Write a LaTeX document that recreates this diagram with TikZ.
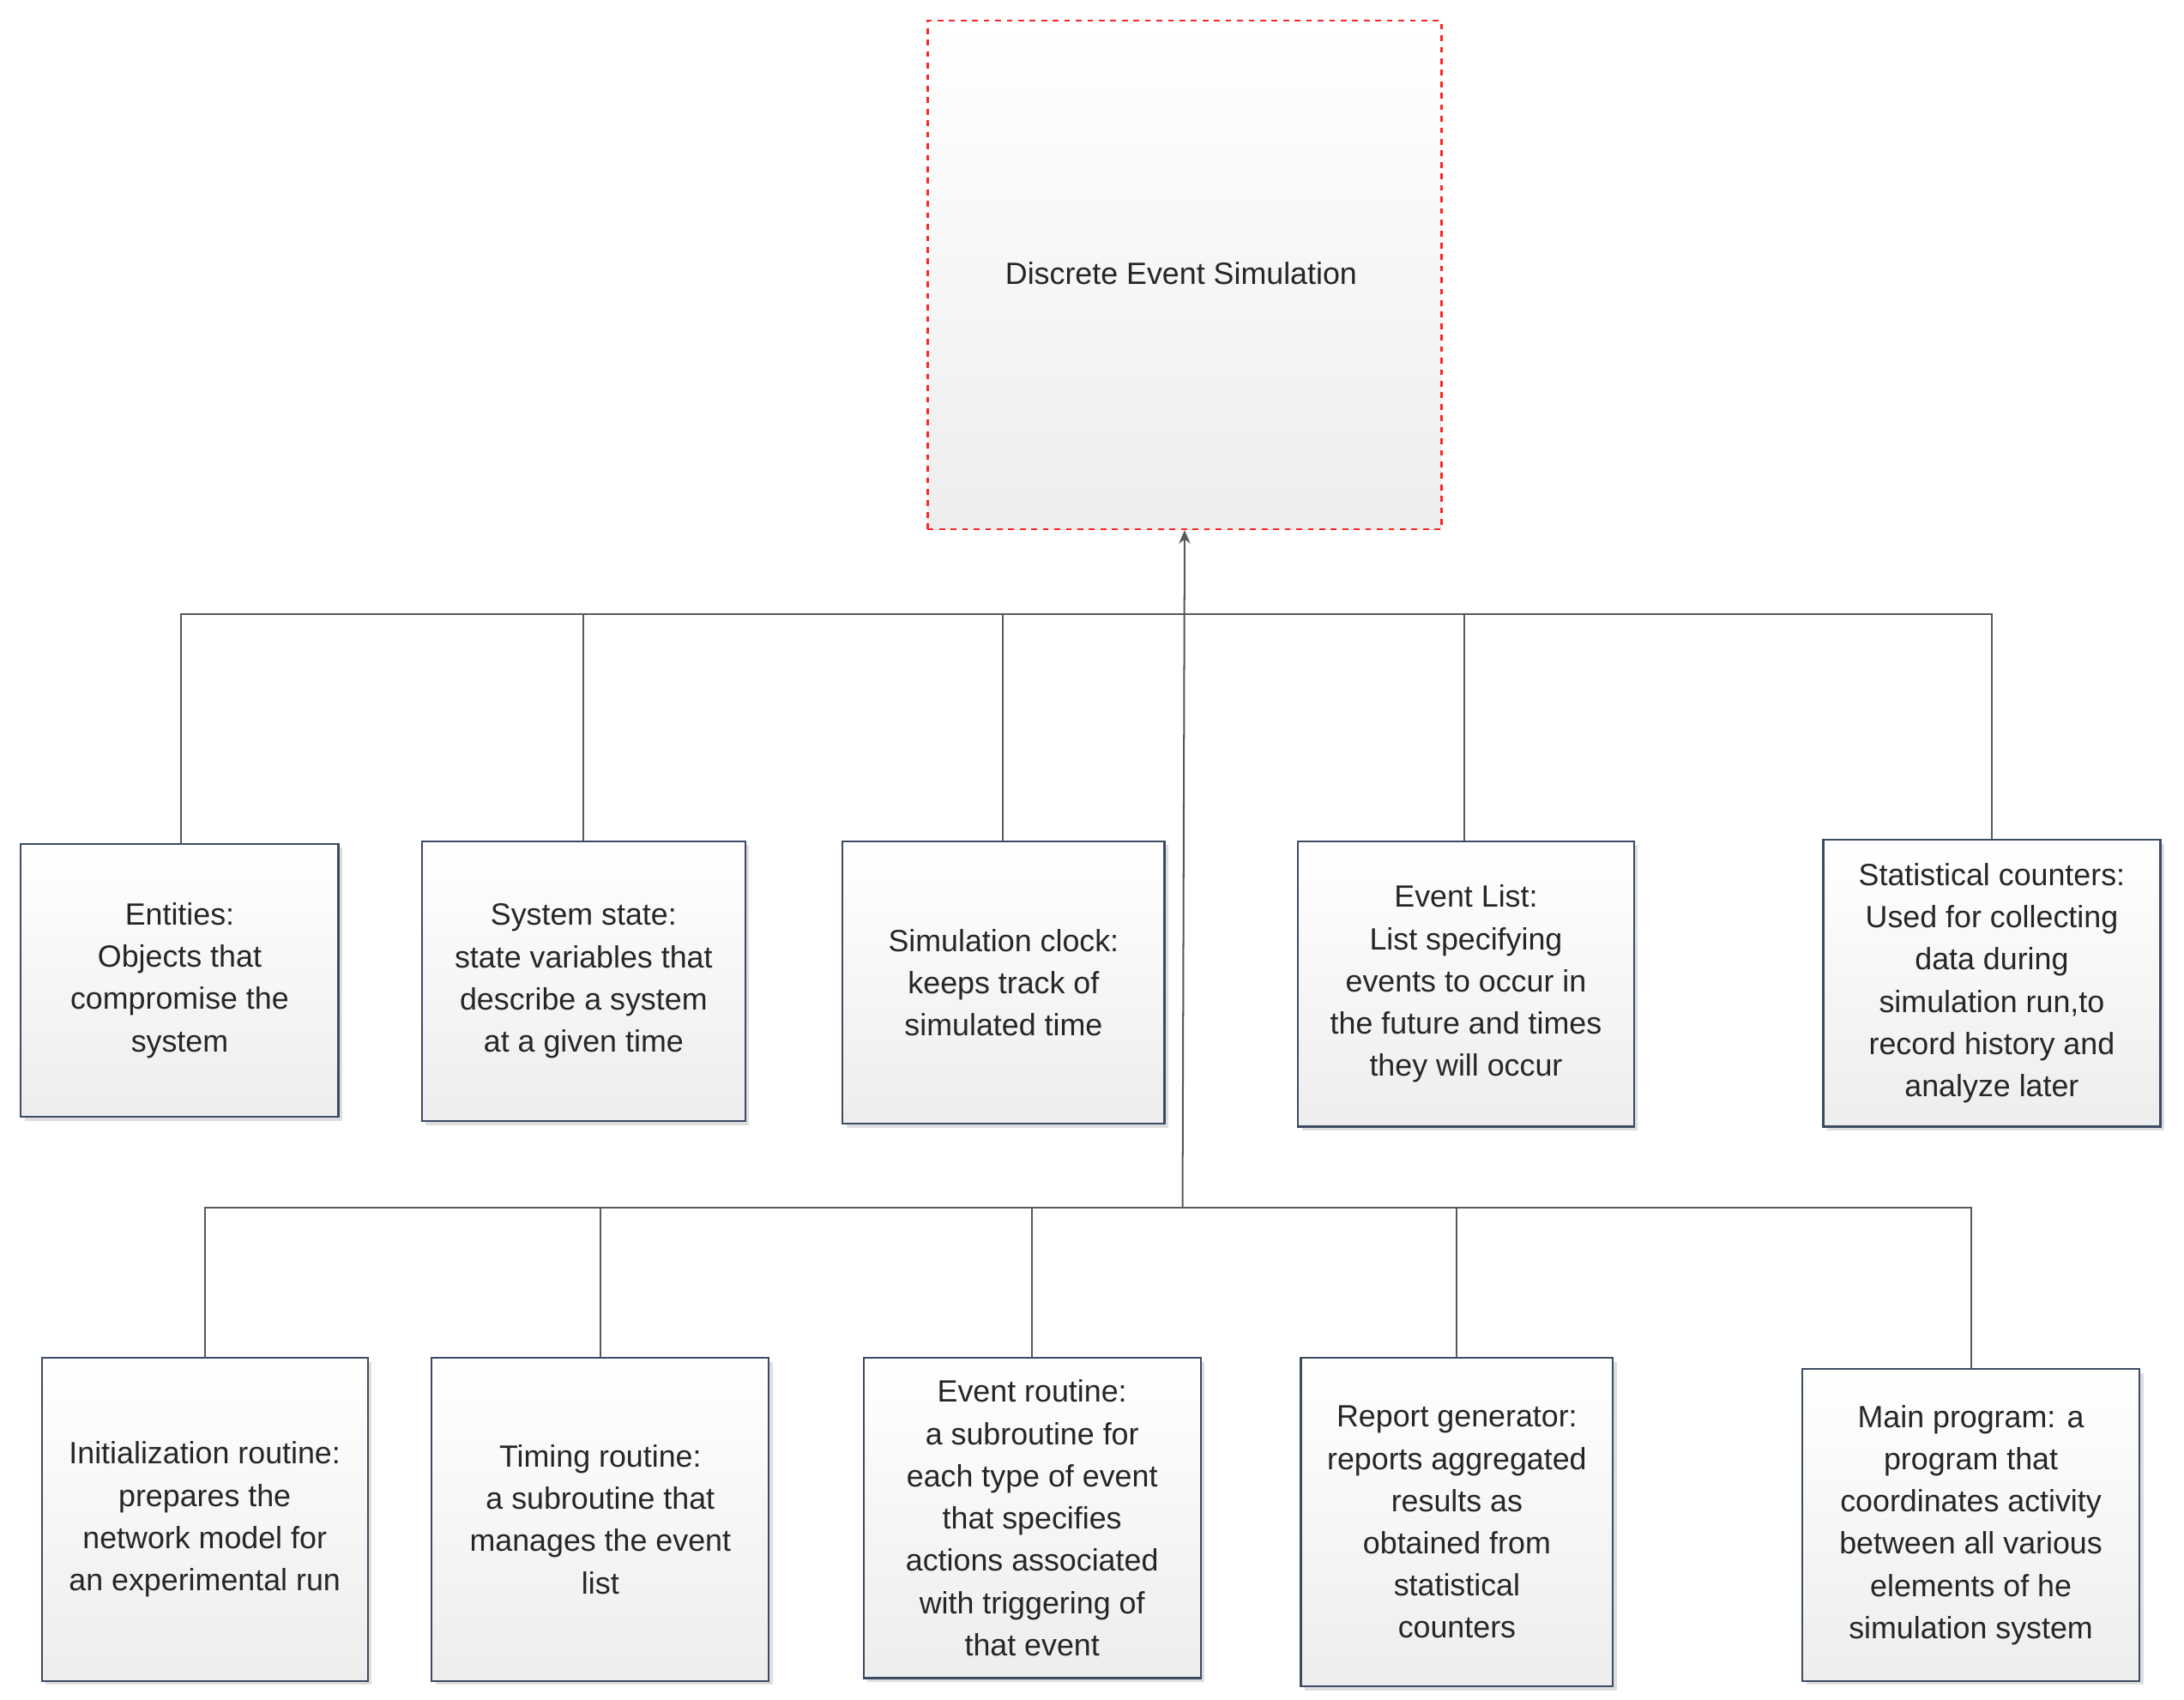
\documentclass[tikz,border=0pt]{standalone}
\usepackage{fontspec}
\setmainfont{Liberation Sans}
\usetikzlibrary{arrows.meta,shadows}
\def\u{0.0255cm}
\tikzset{
 box/.style={draw={rgb,255:red,60;green,75;blue,100},line width=1pt,top color=white,bottom color=black!7,
   align=center,inner sep=2pt,font=\fontsize{16}{22}\selectfont,text=black!85,
   drop shadow={shadow xshift=2pt,shadow yshift=-2pt,fill=black!25}},
 topbox/.style={draw=red!85,dashed,line width=1pt,top color=white,bottom color=black!7,
   align=center,font=\fontsize{16}{22}\selectfont,text=black!85},
 wire/.style={draw=black!65,line width=0.9pt}
}
\newcommand{\bx}[6]{\node[box,minimum width={(#4-#2)*\u},minimum height={(#5-#3)*\u}] (#1) at ({(#2+#4)/2},{(#3+#5)/2}) {#6};}
\begin{document}
\begin{tikzpicture}[x=\u,y=-\u]
\useasboundingbox[fill=white] (0,0) rectangle (1568,1220.6);
\node[topbox,minimum width={369*\u},minimum height={365*\u},text depth=0pt] (top) at (850.5,197.5) {};
\node[font=\fontsize{16}{22}\selectfont,text=black!85] (toptext) at (848,196) {Discrete Event Simulation};
\bx{e1}{15}{606}{243}{802}{Entities:\\Objects that\\compromise the\\system}
\bx{e2}{303}{604}{535}{805}{System state:\\state variables that\\describe a system\\at a given time}
\bx{e3}{605}{604}{836}{807}{Simulation clock:\\keeps track of\\simulated time}
\bx{e4}{932}{604}{1173}{809}{Event List:\\List specifying\\events to occur in\\the future and times\\they will occur}
\bx{e5}{1309}{603}{1551}{809}{Statistical counters:\\Used for collecting\\data during\\simulation run,to\\record history and\\analyze later}
\bx{f1}{30}{975}{264}{1207}{Initialization routine:\\prepares the\\network model for\\an experimental run}
\bx{f2}{310}{975}{552}{1207}{Timing routine:\\a subroutine that\\manages the event\\list}
\bx{f3}{620}{975}{862}{1205}{Event routine:\\a subroutine for\\each type of event\\that specifies\\actions associated\\with triggering of\\that event}
\bx{f4}{934}{975}{1158}{1211}{Report generator:\\reports aggregated\\results as\\obtained from\\statistical\\counters}
\bx{f5}{1294}{983}{1536}{1207}{Main program: a\\program that\\coordinates activity\\between all various\\elements of he\\simulation system}
\coordinate (b1) at (849,441);
\coordinate (b2) at (849,867);
\draw[wire,-{Stealth[length=7pt,width=6pt]}] (b2) -- (top.south);
\draw[wire] (e1.north -| 130,0) -- (130,441) -- (1430,441) -- (e5.north -| 1430,0);
\foreach \n/\x in {e2/419,e3/720,e4/1051} \draw[wire] (\n.north -| \x,0) -- (\x,441);
\draw[wire] (f1.north -| 147,0) -- (147,867) -- (1415,867) -- (f5.north -| 1415,0);
\foreach \n/\x in {f2/431,f3/741,f4/1046} \draw[wire] (\n.north -| \x,0) -- (\x,867);
\end{tikzpicture}
\end{document}
